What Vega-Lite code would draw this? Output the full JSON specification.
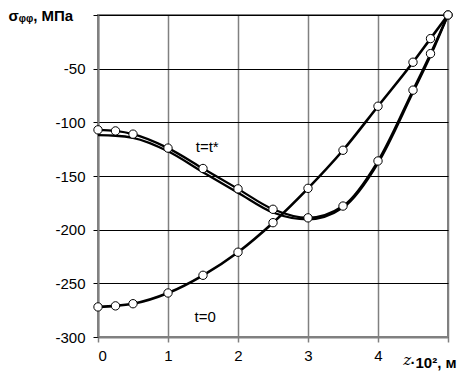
{
  "$schema": "https://vega.github.io/schema/vega-lite/v6.json",
  "width": 350,
  "height": 322,
  "autosize": "none",
  "padding": {"left": 98, "top": 15, "right": 17, "bottom": 35},
  "background": "white",
  "config": {
    "view": {"stroke": "#808080", "strokeWidth": 2},
    "font": "Liberation Sans"
  },
  "data": {"name": "curves"},
  "datasets": {
    "curves": [
      {"series": "t=t*", "x": 0, "y": -107},
      {"series": "t=t*", "x": 0.25, "y": -108},
      {"series": "t=t*", "x": 0.5, "y": -111},
      {"series": "t=t*", "x": 1, "y": -124},
      {"series": "t=t*", "x": 1.5, "y": -143},
      {"series": "t=t*", "x": 2, "y": -162},
      {"series": "t=t*", "x": 2.5, "y": -181},
      {"series": "t=t*", "x": 3, "y": -189},
      {"series": "t=t*", "x": 3.5, "y": -178},
      {"series": "t=t*", "x": 4, "y": -136},
      {"series": "t=t*", "x": 4.5, "y": -70},
      {"series": "t=t*", "x": 4.75, "y": -36},
      {"series": "t=t*", "x": 5, "y": 0},
      {"series": "t=t* smooth", "x": 0, "y": -112},
      {"series": "t=t* smooth", "x": 0.25, "y": -112.5},
      {"series": "t=t* smooth", "x": 0.5, "y": -114.5},
      {"series": "t=t* smooth", "x": 1, "y": -127},
      {"series": "t=t* smooth", "x": 1.5, "y": -146.5},
      {"series": "t=t* smooth", "x": 2, "y": -165.5},
      {"series": "t=t* smooth", "x": 2.5, "y": -184},
      {"series": "t=t* smooth", "x": 3, "y": -190.5},
      {"series": "t=t* smooth", "x": 3.5, "y": -179.5},
      {"series": "t=t* smooth", "x": 4, "y": -138},
      {"series": "t=t* smooth", "x": 4.5, "y": -72},
      {"series": "t=t* smooth", "x": 4.75, "y": -38},
      {"series": "t=t* smooth", "x": 5, "y": 0},
      {"series": "t=0", "x": 0, "y": -272},
      {"series": "t=0", "x": 0.25, "y": -271},
      {"series": "t=0", "x": 0.5, "y": -269},
      {"series": "t=0", "x": 1, "y": -259},
      {"series": "t=0", "x": 1.5, "y": -242.5},
      {"series": "t=0", "x": 2, "y": -221},
      {"series": "t=0", "x": 2.5, "y": -193.5},
      {"series": "t=0", "x": 3, "y": -161.5},
      {"series": "t=0", "x": 3.5, "y": -126},
      {"series": "t=0", "x": 4, "y": -85},
      {"series": "t=0", "x": 4.5, "y": -44},
      {"series": "t=0", "x": 4.75, "y": -22},
      {"series": "t=0", "x": 5, "y": 0}
    ],
    "labels": [
      {"text": "t=t*", "x": 1.56, "y": -123},
      {"text": "t=0", "x": 1.53, "y": -281}
    ],
    "zlabel": [
      {"text": "z", "x": 4.36, "y": -326}
    ]
  },
  "encoding": {
    "x": {
      "field": "x", "type": "quantitative",
      "scale": {"domain": [0, 5], "nice": false, "zero": false},
      "axis": {
        "values": [0, 1, 2, 3, 4, 5],
        "labelExpr": "datum.value == 5 ? '' : toString(datum.value)",
        "grid": true, "gridColor": "#808080", "gridWidth": 1.5, "gridOpacity": 1,
        "domainColor": "#808080", "domainWidth": 2,
        "tickColor": "#808080", "tickSize": 5, "tickWidth": 1.5,
        "labelFont": "Liberation Sans", "labelFontSize": 15, "labelColor": "black",
        "labelPadding": 6,
        "title": "·10², м",
        "titleFont": "Liberation Sans", "titleFontSize": 15, "titleFontWeight": "bold",
        "titleColor": "black",
        "titleAlign": "left", "titleBaseline": "alphabetic",
        "titleX": 312, "titleY": 30
      }
    },
    "y": {
      "field": "y", "type": "quantitative",
      "scale": {"domain": [-300, 0], "nice": false, "zero": false},
      "axis": {
        "values": [-300, -250, -200, -150, -100, -50, 0],
        "labelExpr": "datum.value == 0 ? '' : toString(datum.value)",
        "grid": true, "gridColor": "black", "gridWidth": 1, "gridOpacity": 1,
        "domainColor": "#808080", "domainWidth": 2,
        "tickColor": "black", "tickSize": 5, "tickWidth": 1,
        "labelFont": "Liberation Sans", "labelFontSize": 15, "labelColor": "black",
        "labelPadding": 8,
        "title": "σᵩᵩ, МПа",
        "titleFont": "Liberation Sans", "titleFontSize": 15, "titleFontWeight": "bold",
        "titleColor": "black", "titleAngle": 0,
        "titleAlign": "left", "titleBaseline": "middle",
        "titleX": -90, "titleY": 0
      }
    }
  },
  "layer": [
    {
      "transform": [{"filter": "datum.series == 't=t* smooth'"}],
      "mark": {"type": "line", "interpolate": "monotone", "color": "black", "strokeWidth": 2.3},
      "encoding": {"detail": {"field": "series"}}
    },
    {
      "transform": [{"filter": "datum.series == 't=t*'"}],
      "mark": {"type": "line", "interpolate": "monotone", "color": "black", "strokeWidth": 2.3},
      "encoding": {"detail": {"field": "series"}}
    },
    {
      "transform": [{"filter": "datum.series == 't=0'"}],
      "mark": {"type": "line", "interpolate": "monotone", "color": "black", "strokeWidth": 2.6},
      "encoding": {"detail": {"field": "series"}}
    },
    {
      "transform": [{"filter": "datum.series != 't=t* smooth'"}],
      "mark": {"type": "point", "shape": "circle", "filled": true, "fill": "white", "stroke": "black", "strokeWidth": 1, "size": 70, "opacity": 1}
    },
    {
      "data": {"name": "labels"},
      "mark": {"type": "text", "font": "Liberation Sans", "fontSize": 15, "color": "black", "align": "center", "baseline": "middle"},
      "encoding": {"text": {"field": "text"}}
    },
    {
      "data": {"name": "zlabel"},
      "mark": {"type": "text", "font": "DejaVu Serif", "fontStyle": "italic", "fontSize": 15, "color": "black", "align": "left", "baseline": "alphabetic"},
      "encoding": {"text": {"field": "text"}}
    }
  ]
}
